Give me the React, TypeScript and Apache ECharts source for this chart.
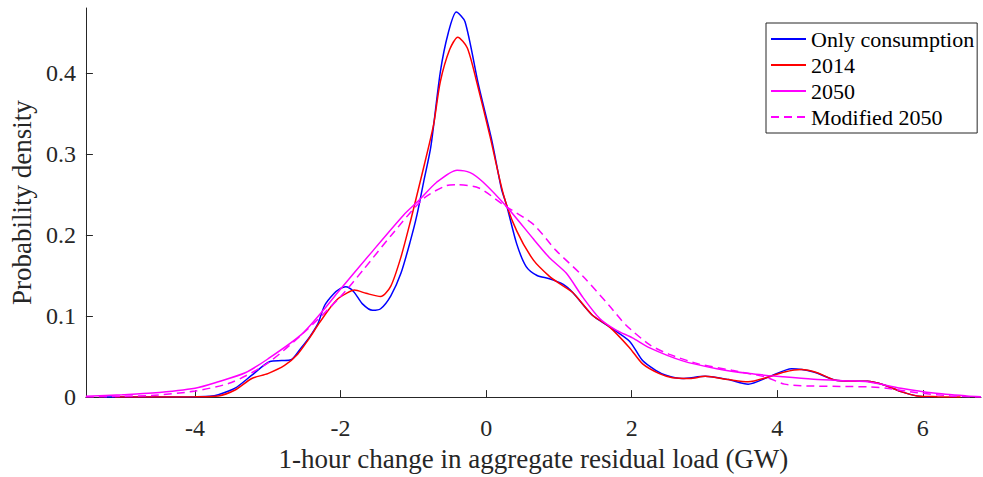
import React, { useEffect, useRef } from "react";
import * as echarts from "echarts";

const xTicks = [-4, -2, 0, 2, 4, 6];
const yTicks = [0, 0.1, 0.2, 0.3, 0.4];

const consumptionX = [-5.25, -4.5, -4.0, -3.8, -3.68, -3.45, -3.22, -2.97, -2.81, -2.68, -2.54, -2.42, -2.31, -2.22, -2.1, -2.0, -1.93, -1.82, -1.7, -1.56, -1.45, -1.31, -1.17, -1.04, -0.95, -0.86, -0.76, -0.63, -0.52, -0.41, -0.29, -0.105, 0.077, 0.21, 0.28, 0.42, 0.55, 0.7, 0.87, 1.06, 1.19, 1.46, 1.69, 1.97, 2.15, 2.33, 2.47, 2.69, 3.01, 3.33, 3.6, 3.88, 4.2, 4.5, 4.79, 5.0, 5.24, 5.47, 5.7, 5.92, 6.1];
const consumptionY = [0, 0, 0.0005, 0.001, 0.003, 0.011, 0.027, 0.044, 0.045, 0.046, 0.061, 0.075, 0.091, 0.113, 0.127, 0.134, 0.136, 0.13, 0.115, 0.107, 0.109, 0.125, 0.153, 0.193, 0.225, 0.265, 0.309, 0.401, 0.4495, 0.475, 0.463, 0.385, 0.317, 0.257, 0.237, 0.189, 0.161, 0.15, 0.146, 0.139, 0.129, 0.101, 0.087, 0.069, 0.045, 0.033, 0.027, 0.023, 0.0256, 0.0216, 0.016, 0.0248, 0.035, 0.031, 0.021, 0.0196, 0.0196, 0.015, 0.0068, 0.0015, 0];

const y2014X = [-5.1, -4.5, -4.0, -3.68, -3.45, -3.22, -3.0, -2.77, -2.59, -2.45, -2.31, -2.18, -2.04, -1.92, -1.81, -1.65, -1.45, -1.31, -1.17, -1.04, -0.93, -0.79, -0.72, -0.63, -0.5, -0.39, -0.26, -0.13, 0.055, 0.24, 0.42, 0.65, 0.87, 1.01, 1.19, 1.46, 1.69, 1.97, 2.15, 2.38, 2.56, 2.8, 3.01, 3.33, 3.6, 3.88, 4.1, 4.33, 4.55, 4.79, 5.01, 5.24, 5.47, 5.7, 5.92, 6.2, 6.52];
const y2014Y = [0, 0, 0.0005, 0.0015, 0.0088, 0.023, 0.029, 0.039, 0.053, 0.07, 0.089, 0.106, 0.121, 0.128, 0.132, 0.128, 0.124, 0.137, 0.173, 0.217, 0.257, 0.309, 0.337, 0.389, 0.429, 0.444, 0.431, 0.389, 0.321, 0.249, 0.205, 0.169, 0.149, 0.14, 0.129, 0.101, 0.087, 0.061, 0.041, 0.029, 0.024, 0.023, 0.0256, 0.0216, 0.0188, 0.0248, 0.031, 0.034, 0.03, 0.021, 0.0196, 0.0196, 0.015, 0.0068, 0.0015, 0.0005, 0];

const y2050X = [-5.5, -5.0, -4.59, -4.0, -3.68, -3.31, -3.0, -2.54, -2.22, -2.04, -1.59, -1.13, -0.92, -0.68, -0.4, -0.22, -0.04, 0.3, 0.65, 0.87, 1.1, 1.33, 1.56, 1.78, 2.01, 2.24, 2.69, 3.17, 3.62, 4.08, 4.5, 5.01, 5.24, 5.7, 6.15, 6.6, 6.8];
const y2050Y = [0.001, 0.003, 0.005, 0.011, 0.019, 0.03, 0.047, 0.077, 0.109, 0.129, 0.177, 0.225, 0.243, 0.265, 0.28, 0.277, 0.265, 0.233, 0.195, 0.172, 0.153, 0.123, 0.097, 0.083, 0.073, 0.061, 0.045, 0.035, 0.029, 0.025, 0.022, 0.02, 0.019, 0.011, 0.005, 0.0015, 0.0005];

const mod2050X = [-5.5, -5.0, -4.6, -4.0, -3.5, -3.0, -2.5, -2.0, -1.68, -1.3, -0.86, -0.54, -0.4, -0.1, 0.24, 0.65, 0.96, 1.33, 1.69, 1.92, 2.24, 2.51, 2.92, 3.38, 3.83, 4.1, 4.33, 5.0, 5.24, 5.5, 5.92, 6.38, 6.8];
const mod2050Y = [0, 0.001, 0.002, 0.0075, 0.018, 0.042, 0.08, 0.124, 0.158, 0.2, 0.245, 0.261, 0.262, 0.258, 0.237, 0.213, 0.181, 0.149, 0.113, 0.089, 0.065, 0.053, 0.041, 0.033, 0.025, 0.016, 0.014, 0.013, 0.0127, 0.011, 0.0055, 0.0015, 0];

const seriesNames = ["Only consumption", "2014", "2050", "Modified 2050"];

const pair = (xs: number[], ys: number[]) => xs.map((x, i) => [x, ys[i]]);

const FONT = "Liberation Serif";
const AXIS_COLOR = "#262626";

export default function App() {
  const ref = useRef<HTMLDivElement>(null);
  useEffect(() => {
    if (!ref.current) return;
    const chart = echarts.init(ref.current, undefined, { renderer: "svg" });
    const mk = (name: string, data: number[][], color: string, type: any) => ({
      name,
      type: "line",
      data,
      showSymbol: false,
      symbol: "none",
      symbolSize: 0,
      smooth: 0.25,
      lineStyle: { color, width: 1.5, type },
      itemStyle: { color },
      z: 2,
    });
    chart.setOption({
      animation: false,
      backgroundColor: "#ffffff",
      grid: { left: 80, right: 2, top: 8, bottom: 70, containLabel: false },
      legend: {
        orient: "vertical",
        left: 766,
        top: 23,
        padding: [5, 3, 5, 4],
        itemGap: 4,
        itemWidth: 35,
        itemHeight: 14,
        backgroundColor: "#ffffff",
        borderColor: AXIS_COLOR,
        borderWidth: 1,
        borderRadius: 0,
        itemStyle: { opacity: 0 },
        data: seriesNames,
        textStyle: { fontFamily: FONT, fontSize: 22, color: "#000" },
      },
      xAxis: {
        type: "value",
        min: -5.5,
        max: 6.8,
        name: "1-hour change in aggregate residual load (GW)",
        nameLocation: "middle",
        nameGap: 42,
        nameTextStyle: { fontFamily: FONT, fontSize: 27, color: AXIS_COLOR },
        axisLine: { show: true, onZero: false, lineStyle: { color: AXIS_COLOR, width: 1 } },
        axisTick: { show: true, inside: true, length: 7, customValues: xTicks, lineStyle: { color: AXIS_COLOR } },
        axisLabel: { show: true, customValues: xTicks, margin: 19, fontFamily: FONT, fontSize: 24, color: AXIS_COLOR },
        splitLine: { show: false },
      },
      yAxis: {
        type: "value",
        min: 0,
        max: 0.48,
        name: "Probability density",
        nameLocation: "middle",
        nameGap: 45,
        nameTextStyle: { fontFamily: FONT, fontSize: 27, color: AXIS_COLOR },
        axisLine: { show: true, onZero: false, lineStyle: { color: AXIS_COLOR, width: 1 } },
        axisTick: { show: true, inside: true, length: 7, customValues: yTicks, lineStyle: { color: AXIS_COLOR } },
        axisLabel: { show: true, customValues: yTicks, margin: 10, fontFamily: FONT, fontSize: 24, color: AXIS_COLOR },
        splitLine: { show: false },
      },
      series: [
        mk(seriesNames[0], pair(consumptionX, consumptionY), "#0000ff", "solid"),
        mk(seriesNames[1], pair(y2014X, y2014Y), "#ff0000", "solid"),
        mk(seriesNames[2], pair(y2050X, y2050Y), "#ff00ff", "solid"),
        mk(seriesNames[3], pair(mod2050X, mod2050Y), "#ff00ff", [8, 5]),
      ],
    });
    return () => chart.dispose();
  }, []);
  return (
    <div
      ref={ref}
      style={{ position: "absolute", left: 0, top: 0, width: 983, height: 477, background: "#fff" }}
    />
  );
}
